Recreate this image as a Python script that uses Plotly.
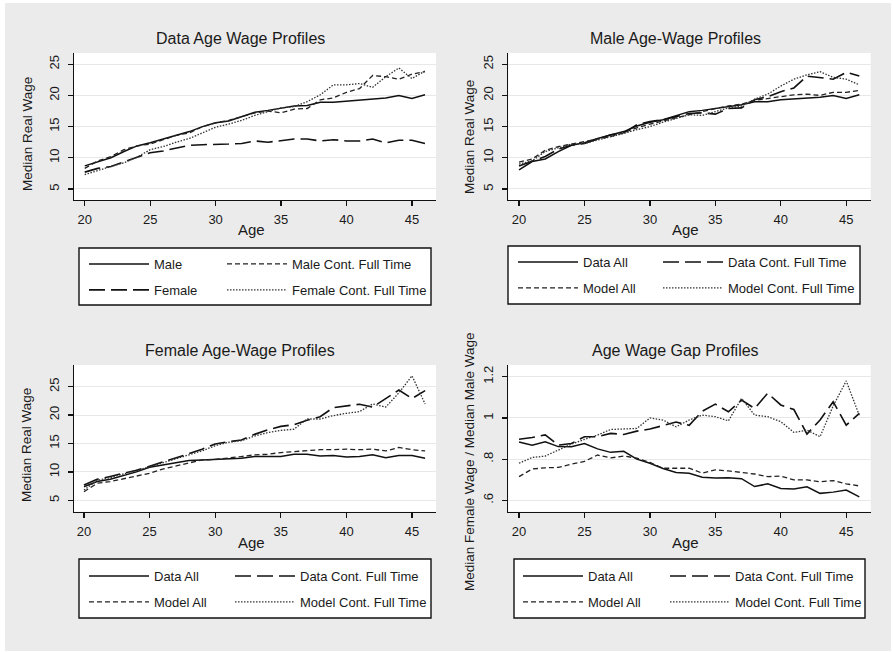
import plotly.graph_objects as go

# ---------------- data ----------------
ages = [20, 21, 22, 23, 24, 25, 26, 27, 28, 29, 30, 31, 32, 33, 34, 35, 36, 37, 38, 39, 40, 41, 42, 43, 44, 45, 46]
x_ticks = [20, 25, 30, 35, 40, 45]
wage_ticks = [5, 10, 15, 20, 25]
gap_ticks = [0.6, 0.8, 1.0, 1.2]
gap_tick_text = [".6", ".8", "1", "1.2"]

# Panel 1: Data Age Wage Profiles
p1_male = [8.7, 9.3, 10.0, 11.0, 11.9, 12.4, 13.0, 13.6, 14.2, 15.0, 15.6, 15.9, 16.6, 17.3, 17.6, 18.0, 18.3, 18.4, 18.9, 18.9, 19.1, 19.3, 19.4, 19.6, 20.0, 19.5, 20.1]
p1_male_cft = [8.3, 9.5, 10.2, 11.3, 11.9, 12.2, 12.9, 13.6, 14.0, 15.0, 15.6, 16.0, 16.6, 17.2, 17.5, 17.2, 17.8, 17.9, 19.3, 19.6, 20.5, 21.1, 23.2, 23.0, 22.6, 23.4, 23.8]
p1_female = [7.7, 8.3, 8.6, 9.3, 10.0, 10.8, 11.1, 11.6, 12.0, 12.1, 12.1, 12.2, 12.3, 12.7, 12.5, 12.8, 13.0, 13.0, 12.7, 12.9, 12.7, 12.7, 13.0, 12.4, 12.8, 12.8, 12.3]
p1_female_cft = [7.3, 8.0, 8.6, 9.2, 10.1, 11.3, 11.8, 12.5, 13.1, 14.0, 14.9, 15.4, 16.0, 16.8, 17.4, 18.0, 18.2, 19.0, 20.1, 21.7, 21.7, 21.9, 21.3, 23.0, 24.4, 22.7, 23.9]

# Panel 2: Male Age-Wage Profiles
p2_data_all = [8.05, 9.4, 9.8, 11.0, 12.0, 12.4, 13.1, 13.7, 14.2, 15.1, 15.7, 16.1, 16.8, 17.4, 17.6, 17.9, 18.3, 18.5, 19.0, 19.0, 19.3, 19.4, 19.5, 19.7, 20.0, 19.5, 20.1]
p2_data_cft = [8.7, 9.5, 10.2, 11.4, 12.0, 12.3, 13.0, 13.7, 14.0, 15.3, 15.8, 16.1, 16.6, 17.1, 17.2, 17.0, 17.9, 18.0, 19.3, 19.8, 20.6, 21.2, 23.1, 22.9, 22.6, 23.7, 23.1]
p2_model_all = [9.3, 9.8, 11.2, 11.8, 12.2, 12.6, 13.0, 13.4, 14.0, 14.8, 15.4, 15.9, 16.5, 17.0, 17.5, 17.9, 18.3, 18.6, 19.2, 19.5, 19.9, 20.1, 20.2, 20.0, 20.5, 20.5, 20.8]
p2_model_cft = [9.0, 9.5, 11.0, 11.6, 12.2, 12.3, 12.8, 13.3, 13.9, 14.5, 15.0, 15.7, 16.3, 16.9, 16.8, 17.4, 18.0, 18.3, 19.4, 20.2, 21.5, 22.6, 23.3, 23.8, 22.9, 22.6, 21.7]

# Panel 3: Female Age-Wage Profiles
p3_data_all = [7.4, 8.3, 8.7, 9.3, 10.0, 10.8, 11.2, 11.6, 12.0, 12.1, 12.2, 12.3, 12.4, 12.7, 12.7, 12.7, 13.1, 13.1, 12.8, 12.9, 12.6, 12.7, 13.0, 12.5, 12.9, 12.9, 12.4]
p3_data_cft = [7.7, 8.7, 9.2, 9.75, 10.3, 11.0, 11.7, 12.4, 13.2, 14.0, 14.9, 15.3, 15.6, 16.6, 17.4, 18.0, 18.3, 19.1, 19.7, 21.3, 21.6, 21.9, 21.4, 22.9, 24.4, 22.9, 24.3]
p3_model_all = [6.5, 8.0, 8.3, 8.8, 9.3, 9.75, 10.5, 11.0, 11.6, 12.1, 12.2, 12.4, 12.7, 13.0, 13.1, 13.4, 13.6, 13.7, 13.9, 13.9, 14.0, 13.9, 14.0, 13.7, 14.3, 13.9, 13.7]
p3_model_cft = [6.8, 8.5, 9.0, 9.6, 10.3, 10.9, 11.6, 12.3, 13.0, 13.7, 14.6, 15.2, 15.5, 16.3, 16.9, 17.3, 17.5, 19.3, 19.3, 19.9, 20.3, 20.6, 21.95, 21.4, 23.9, 26.9, 21.95]

# Panel 4: Age Wage Gap Profiles
p4_data_all = [0.883, 0.868, 0.884, 0.861, 0.86, 0.876, 0.85, 0.833, 0.838, 0.80, 0.78, 0.755, 0.735, 0.732, 0.712, 0.708, 0.71, 0.705, 0.667, 0.68, 0.658, 0.655, 0.666, 0.634, 0.64, 0.65, 0.617]
p4_data_cft = [0.897, 0.905, 0.918, 0.868, 0.876, 0.909, 0.909, 0.925, 0.92, 0.936, 0.946, 0.964, 0.98, 0.964, 1.033, 1.067, 1.03, 1.087, 1.046, 1.12, 1.063, 1.041, 0.922, 0.99, 1.079, 0.965, 1.022]
p4_model_all = [0.715, 0.752, 0.758, 0.76, 0.776, 0.789, 0.82, 0.806, 0.815, 0.805, 0.784, 0.756, 0.756, 0.756, 0.732, 0.748, 0.743, 0.736, 0.728, 0.715, 0.718, 0.699, 0.699, 0.69, 0.696, 0.68, 0.67]
p4_model_cft = [0.78, 0.808, 0.815, 0.844, 0.873, 0.896, 0.917, 0.944, 0.947, 0.949, 1.0, 0.99, 0.957, 0.99, 1.014, 1.006, 0.986, 1.095, 1.014, 1.006, 0.982, 0.93, 0.941, 0.909, 1.058, 1.18, 1.012]

panel_titles = ["Data Age Wage Profiles", "Male Age-Wage Profiles",
                "Female Age-Wage Profiles", "Age Wage Gap Profiles"]
names_p1 = ["Male", "Male Cont. Full Time", "Female", "Female Cont. Full Time"]
names_model = ["Data All", "Data Cont. Full Time", "Model All", "Model Cont. Full Time"]
y_titles = ["Median Real Wage", "Median Real Wage", "Median Real Wage",
            "Median Female Wage / Median Male Wage"]
x_title = "Age"

# ---------------- layout helpers ----------------
W, H = 893, 652
FONT = "Liberation Sans, Arial, Helvetica, sans-serif"
GREY = "#ebebeb"
TXT = "#1a1a1a"


def fx(p):
    return p / W


def fy(p):
    return 1 - p / H


STY = {
    "solid": dict(color="#111111", width=1.5, dash="solid"),
    "long": dict(color="#111111", width=1.6, dash="16px,6px"),
    "short": dict(color="#222222", width=1.3, dash="5px,3px"),
    "dot": dict(color="#333333", width=1.3, dash="1.5px,1.5px"),
}

panels = [
    dict(series=[p1_male, p1_male_cft, p1_female, p1_female_cft], names=names_p1,
         styles=["solid", "short", "long", "dot"],
         xdom=(74, 436), ydom=(53, 200), xr=(19.18, 46.84), yr=(3.23, 26.8),
         yt=wage_ticks, ytt=[str(v) for v in wage_ticks],
         title_xy=(240, 39), age_xy=(252, 230), ytitle_xy=(27, 134),
         box=(79, 248, 431, 305), rows=(264, 290), col1=87, col2=225),
    dict(series=[p2_data_all, p2_data_cft, p2_model_all, p2_model_cft], names=names_model,
         styles=["solid", "long", "short", "dot"],
         xdom=(508.3, 870.7), ydom=(53, 200), xr=(19.18, 46.87), yr=(3.23, 26.8),
         yt=wage_ticks, ytt=[str(v) for v in wage_ticks],
         title_xy=(675, 39), age_xy=(685, 230), ytitle_xy=(469, 137),
         box=(508, 246, 860, 304), rows=(262, 287), col1=516, col2=661),
    dict(series=[p3_data_all, p3_data_cft, p3_model_all, p3_model_cft], names=names_model,
         styles=["solid", "long", "short", "dot"],
         xdom=(74, 436), ydom=(365, 511.7), xr=(19.24, 46.83), yr=(3.0, 28.8),
         yt=wage_ticks, ytt=[str(v) for v in wage_ticks],
         title_xy=(240, 350), age_xy=(252, 542), ytitle_xy=(27, 445),
         box=(79, 559, 431, 618), rows=(576, 602), col1=87, col2=233),
    dict(series=[p4_data_all, p4_data_cft, p4_model_all, p4_model_cft], names=names_model,
         styles=["solid", "long", "short", "dot"],
         xdom=(508.3, 870.7), ydom=(365, 511.7), xr=(19.18, 46.87), yr=(0.545, 1.257),
         yt=gap_ticks, ytt=gap_tick_text,
         title_xy=(675, 350), age_xy=(685, 542), ytitle_xy=(469, 462),
         box=(514, 559, 865, 618), rows=(576, 602), col1=521, col2=668),
]

fig = go.Figure()
layout = dict(
    width=W, height=H, margin=dict(l=0, r=0, t=0, b=0),
    paper_bgcolor=GREY, plot_bgcolor="white",
    font=dict(family=FONT, color=TXT, size=13),
    showlegend=True,
)
annotations = []
shapes = []

leg_idx = 0
for i, p in enumerate(panels):
    n = i + 1
    xa = "x" if n == 1 else f"x{n}"
    ya = "y" if n == 1 else f"y{n}"
    xkey = "xaxis" if n == 1 else f"xaxis{n}"
    ykey = "yaxis" if n == 1 else f"yaxis{n}"

    # two legends per panel: column 1 (items 1,3), column 2 (items 2,4)
    leg_names = []
    for c in range(2):
        leg_idx += 1
        leg_names.append("legend" if leg_idx == 1 else f"legend{leg_idx}")
    col_x = [p["col1"], p["col2"]]
    for c in range(2):
        layout[leg_names[c]] = dict(
            x=fx(col_x[c] - 3), y=fy(p["rows"][0] - 15), xanchor="left", yanchor="top",
            bgcolor="rgba(0,0,0,0)", borderwidth=0, orientation="v",
            font=dict(size=13, color=TXT, family=FONT),
            itemwidth=60, tracegroupgap=6, traceorder="grouped",
        )

    for k in range(4):
        st = STY[p["styles"][k]]
        fig.add_trace(go.Scatter(
            x=ages, y=p["series"][k], mode="lines", name=p["names"][k],
            line=dict(color=st["color"], width=st["width"], dash=st["dash"]),
            xaxis=xa, yaxis=ya, legend=leg_names[k % 2],
            legendgroup=f"p{n}s{k}", hoverinfo="skip",
        ))

    layout[xkey] = dict(
        domain=[fx(p["xdom"][0]), fx(p["xdom"][1])], range=list(p["xr"]), anchor=ya,
        tickmode="array", tickvals=x_ticks, ticks="outside", ticklen=5, tickwidth=1.2,
        tickcolor="#111111", showline=True, linecolor="#111111", linewidth=1.3,
        showgrid=False, zeroline=False, tickfont=dict(size=13, color=TXT),
        ticklabelstandoff=2,
    )
    layout[ykey] = dict(
        domain=[fy(p["ydom"][1]), fy(p["ydom"][0])], range=list(p["yr"]), anchor=xa,
        tickmode="array", tickvals=p["yt"], ticktext=p["ytt"], tickangle=-90,
        ticks="outside", ticklen=5, tickwidth=1.2, tickcolor="#111111",
        showline=True, linecolor="#111111", linewidth=1.3,
        showgrid=True, gridcolor="#e8e8e8", gridwidth=1, zeroline=False,
        tickfont=dict(size=13, color=TXT), ticklabelstandoff=4,
    )

    annotations.append(dict(text=panel_titles[i], x=fx(p["title_xy"][0]), y=fy(p["title_xy"][1]),
                            xref="paper", yref="paper", showarrow=False,
                            xanchor="center", yanchor="middle",
                            font=dict(size=16, color=TXT, family=FONT)))
    annotations.append(dict(text=x_title, x=fx(p["age_xy"][0]), y=fy(p["age_xy"][1]),
                            xref="paper", yref="paper", showarrow=False,
                            xanchor="center", yanchor="middle",
                            font=dict(size=15, color=TXT, family=FONT)))
    annotations.append(dict(text=y_titles[i], x=fx(p["ytitle_xy"][0]), y=fy(p["ytitle_xy"][1]),
                            xref="paper", yref="paper", showarrow=False, textangle=-90,
                            xanchor="center", yanchor="middle",
                            font=dict(size=13.5, color=TXT, family=FONT)))

    bx = p["box"]
    shapes.append(dict(type="rect", xref="paper", yref="paper",
                       x0=fx(bx[0]), x1=fx(bx[2]), y0=fy(bx[3]), y1=fy(bx[1]),
                       fillcolor="white", line=dict(color="#111111", width=1.4), layer="below"))

# thin white frame around the grey graph region
for (x0, y0, x1, y1) in [(0, 0, 5, H), (0, 0, W, 3), (W - 2, 0, W, H), (0, H - 1, W, H)]:
    shapes.append(dict(type="rect", xref="paper", yref="paper",
                       x0=fx(x0), x1=fx(x1), y0=fy(y1), y1=fy(y0),
                       fillcolor="white", line=dict(width=0), layer="above"))

layout["annotations"] = annotations
layout["shapes"] = shapes
fig.update_layout(**layout)

fig.write_html("out.html", config={"displayModeBar": False, "staticPlot": True})

# remove the browser's default page margin so the figure sits at the window origin
with open("out.html", "r", encoding="utf-8") as f:
    html = f.read()
html = html.replace("<head>", "<head><style>html,body{margin:0;padding:0;}</style>", 1)
with open("out.html", "w", encoding="utf-8") as f:
    f.write(html)
